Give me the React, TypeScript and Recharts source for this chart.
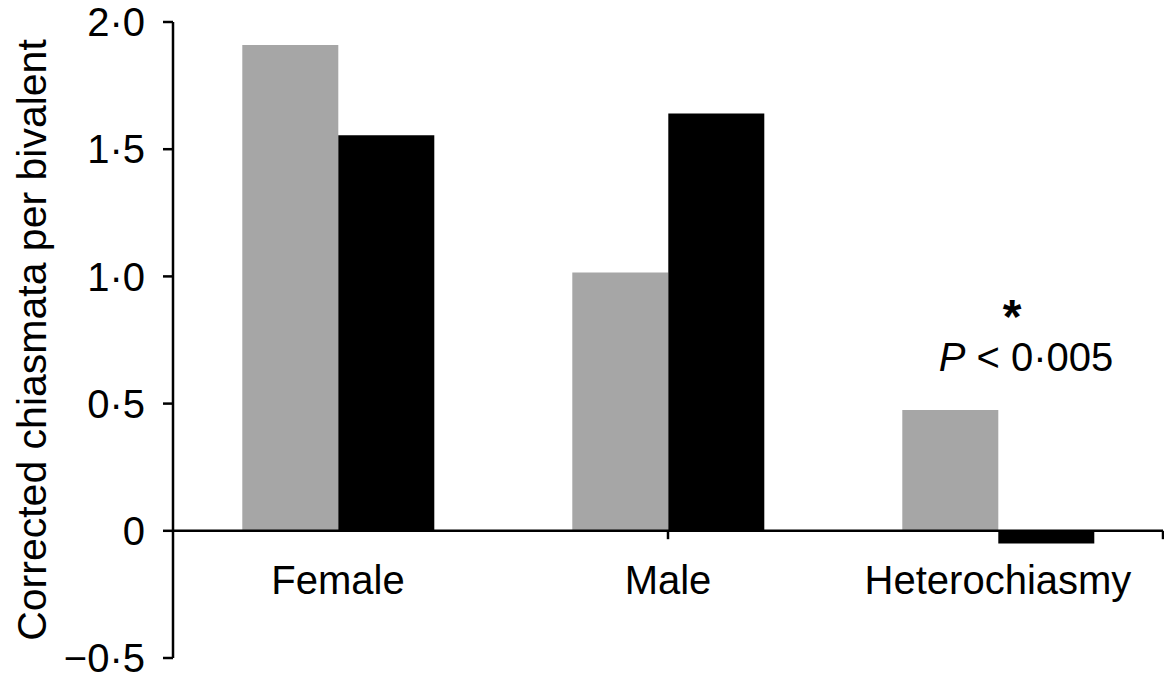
import { BarChart, Bar, XAxis, YAxis, ReferenceLine, ReferenceDot } from 'recharts';

const categories = ['Female', 'Male', 'Heterochiasmy'];
const greyValues = [1.91, 1.015, 0.475];
const blackValues = [1.555, 1.64, -0.05];
const yTicks = [-0.5, 0, 0.5, 1.0, 1.5, 2.0];
const boundaryTicks = [1, 2, 3];
const yLabel = 'Corrected chiasmata per bivalent';
const pValueY = 0.627;

const data = categories.map((name, i) => ({ name, grey: greyValues[i], black: blackValues[i] }));

const FONT = '"Liberation Sans", Arial, Helvetica, sans-serif';

// 1.5 -> "1·5", -0.5 -> "−0·5", 0 -> "0"
const fmt = (v: number) =>
  v === 0 ? '0' : (v < 0 ? '\u2212' : '') + Math.abs(v).toFixed(1).replace('.', '\u00b7');

function CategoryTick({ x, y, payload }: any) {
  return (
    <text x={x} y={y - 64} textAnchor="middle" fontSize={40} fill="#000" fontFamily={FONT}>
      {payload.value}
    </text>
  );
}

function YLabel({ viewBox }: any) {
  const top = viewBox?.y ?? 22;
  const h = viewBox?.height ?? 636;
  const cx = 46;
  const cy = top + h / 2;
  return (
    <text
      x={cx}
      y={cy}
      transform={`rotate(-90 ${cx} ${cy})`}
      textAnchor="middle"
      fontSize={41}
      fill="#000"
      fontFamily={FONT}
    >
      {yLabel}
    </text>
  );
}

function PValueLabel({ viewBox }: any) {
  const cx = (viewBox?.x ?? 0) + (viewBox?.width ?? 0) / 2;
  const cy = (viewBox?.y ?? 0) + (viewBox?.height ?? 0) / 2;
  return (
    <g fontFamily={FONT} fill="#000">
      <text x={cx + 14} y={cy - 38} textAnchor="middle" fontSize={48} fontWeight="bold">
        *
      </text>
      <text x={cx + 28} y={cy} textAnchor="middle" fontSize={40}>
        <tspan fontStyle="italic">P</tspan> &lt; 0·005
      </text>
    </g>
  );
}

export default function App() {
  return (
    <div style={{ position: 'absolute', left: 0, top: 0, fontFamily: FONT, background: '#fff' }}>
      <BarChart
        width={1164}
        height={683}
        data={data}
        margin={{ top: 22, right: 1, bottom: 24, left: 0 }}
        barGap={0}
        barCategoryGap="21%"
      >
        <XAxis
          dataKey="name"
          height={1}
          axisLine={false}
          tickLine={false}
          tickSize={0}
          tickMargin={0}
          interval={0}
          tick={<CategoryTick />}
        />
        <XAxis xAxisId="b" type="number" domain={[0, 3]} hide />
        <YAxis
          type="number"
          domain={[-0.5, 2]}
          ticks={yTicks}
          interval={0}
          width={173}
          tickFormatter={fmt}
          axisLine={{ stroke: '#000', strokeWidth: 2.5 }}
          tickLine={{ stroke: '#000', strokeWidth: 2.5 }}
          tickSize={10}
          tickMargin={18}
          tick={{ fontSize: 40, fill: '#000', fontFamily: FONT }}
          label={<YLabel />}
        />
        <Bar dataKey="grey" fill="#a6a6a6" isAnimationActive={false} />
        <Bar dataKey="black" fill="#000000" isAnimationActive={false} />
        <ReferenceLine y={0} stroke="#000" strokeWidth={2.5} />
        {boundaryTicks.map((b) => (
          <ReferenceLine
            key={b}
            xAxisId="b"
            segment={[
              { x: b, y: 0 },
              { x: b, y: -0.033 },
            ]}
            stroke="#000"
            strokeWidth={2.5}
          />
        ))}
        <ReferenceDot
          x="Heterochiasmy"
          y={pValueY}
          r={0}
          fill="none"
          stroke="none"
          label={<PValueLabel />}
        />
      </BarChart>
    </div>
  );
}
